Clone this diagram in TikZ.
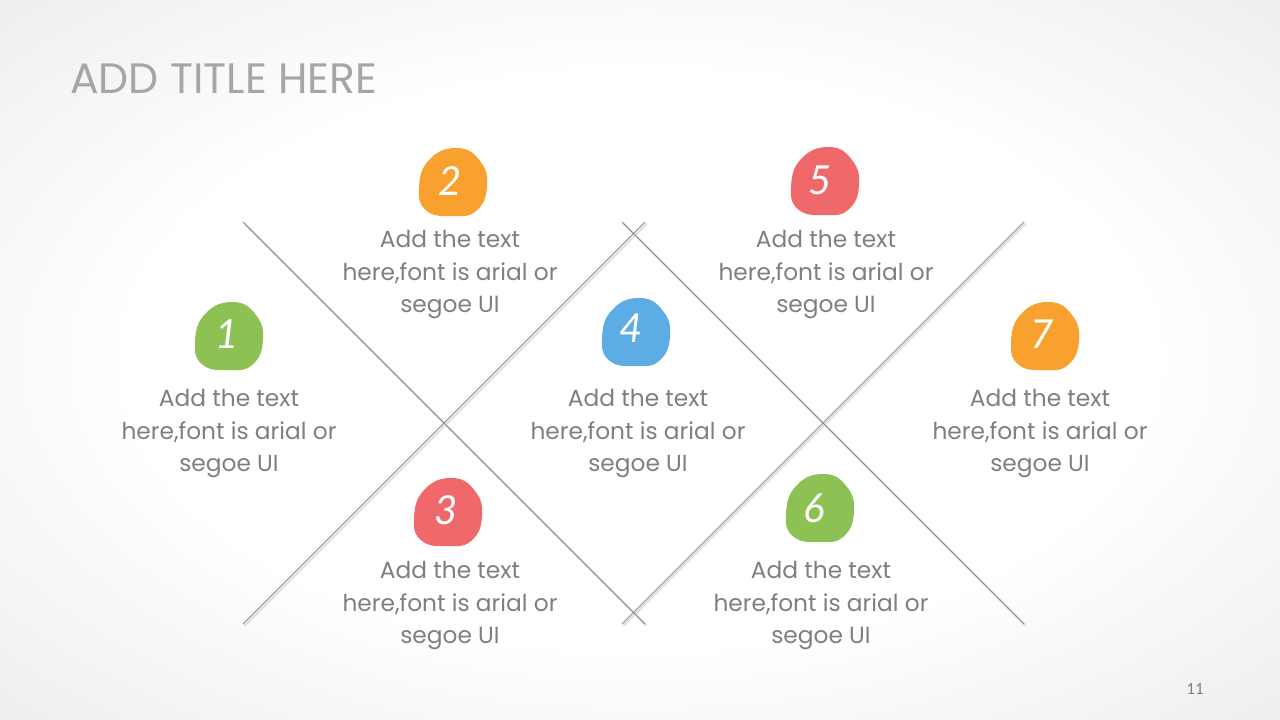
\documentclass[tikz,border=0pt]{standalone}
\usepackage{fontspec}
\setmainfont{Poppins}
\newfontfamily\digitf{Lato}
\newfontfamily\pagef{Carlito}
\definecolor{cgreen}{HTML}{8DC153}
\definecolor{corange}{HTML}{F9A12E}
\definecolor{cred}{HTML}{F0696A}
\definecolor{cblue}{HTML}{5DACE3}
\definecolor{txtgray}{HTML}{7F7F7F}
\definecolor{titlegray}{HTML}{A6A6A6}
\definecolor{linegray}{HTML}{8C8C8C}
\pgfdeclareradialshading{vignette}{\pgfpoint{0bp}{0bp}}{color(0bp)=(white); color(20bp)=(white); color(36bp)=(black!7); color(50bp)=(black!15); color(60bp)=(black!18)}
\tikzset{
  x=1pt, y=-1pt,
  body/.style={font=\fontsize{23.3}{32.5}\selectfont, text=txtgray, align=center, inner sep=0pt},
  num/.style={font=\digitf\itshape\fontsize{40}{40}\selectfont, text=white, inner sep=0pt},
  xline/.style={draw=linegray, line width=0.8pt},
  xshadow/.style={draw=black!12, line width=2.2pt},
}
\newcommand{\pebble}[3]{% x, y, color
  \fill[#3, shift={(#1,#2)}] plot[smooth cycle, tension=0.8] coordinates {(4,-34) (27,-21) (34,5) (23,29) (0,34) (-26,29) (-34,7) (-24,-22)};
}
\begin{document}
\begin{tikzpicture}
\useasboundingbox (0,0) rectangle (1280,720);
\shade[shading=vignette] (0,0) rectangle (1280,720);
% title
\node[anchor=base west, inner sep=0pt, text=titlegray, font=\fontsize{42.5}{42.5}\selectfont] (title) at (70,93) {ADD TITLE HERE};
% X lines
\coordinate (a1) at (243,222); \coordinate (a2) at (645,624);
\coordinate (b1) at (243,624); \coordinate (b2) at (645,222);
\coordinate (c1) at (622,222); \coordinate (c2) at (1024,624);
\coordinate (d1) at (622,624); \coordinate (d2) at (1024,222);
\foreach \p/\q in {a1/a2,b1/b2,c1/c2,d1/d2}{
  \draw[xshadow] ([shift={(1.6,1.6)}]\p) -- ([shift={(1.6,1.6)}]\q);
}
\draw[xline] (a1) -- (a2);
\draw[xline] (b1) -- (b2);
\draw[xline] (c1) -- (c2);
\draw[xline] (d1) -- (d2);
% pebbles
\pebble{229}{336}{cgreen}
\pebble{453}{182}{corange}
\pebble{448}{512}{cred}
\pebble{636}{332}{cblue}
\pebble{825}{181}{cred}
\pebble{820}{508}{cgreen}
\pebble{1045}{336}{corange}
\node[num] (n1) at (227,334) {1};
\node[num] (n2) at (450,181) {2};
\node[num] (n3) at (446,510) {3};
\node[num] (n4) at (631,328) {4};
\node[num] (n5) at (820,180) {5};
\node[num] (n6) at (814,508) {6};
\node[num] (n7) at (1042,334) {7};
% texts
\node[body] (t1) at (229,434) {Add the text\\here,font is arial or\\segoe UI};
\node[body] (t2) at (450,275) {Add the text\\here,font is arial or\\segoe UI};
\node[body] (t3) at (450,606) {Add the text\\here,font is arial or\\segoe UI};
\node[body] (t4) at (638,434) {Add the text\\here,font is arial or\\segoe UI};
\node[body] (t5) at (826,275) {Add the text\\here,font is arial or\\segoe UI};
\node[body] (t6) at (821,606) {Add the text\\here,font is arial or\\segoe UI};
\node[body] (t7) at (1040,434) {Add the text\\here,font is arial or\\segoe UI};
\node[anchor=base, inner sep=0pt, text=txtgray, font=\pagef\fontsize{17}{17}\selectfont] (pg) at (1195,694) {11};
\end{tikzpicture}
\end{document}
